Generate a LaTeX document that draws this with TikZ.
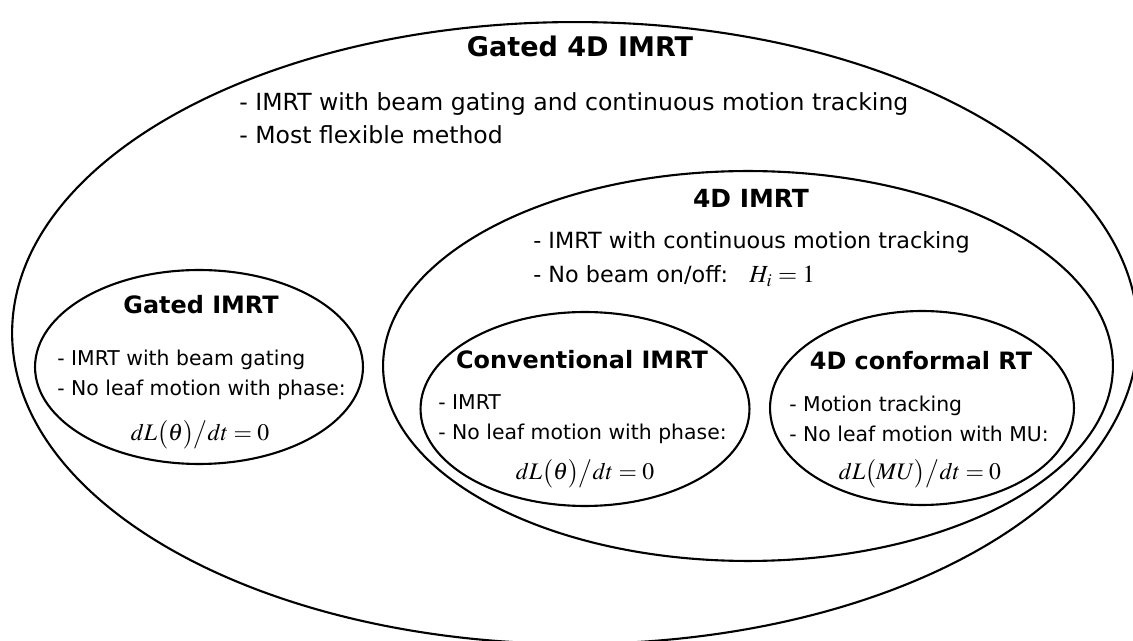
\documentclass[tikz,border=0pt]{standalone}
\usepackage{mathptmx}
\usepackage[no-math]{fontspec}
\setmainfont{DejaVu Sans}
\usetikzlibrary{shapes.geometric,positioning}

\begin{document}
\begin{tikzpicture}[
  x=0.02cm, y=-0.02cm,
  ring/.style={draw, ellipse, line width=1.2pt, inner sep=0pt},
  head/.style={font=\bfseries\fontsize{15.4}{18}\selectfont},
  subhead/.style={font=\bfseries\fontsize{13.6}{16}\selectfont},
  items/.style={align=left, anchor=west, inner sep=0pt, font=\fontsize{13.4}{18.7}\selectfont},
  smallitems/.style={align=left, anchor=west, inner sep=0pt, font=\fontsize{11.6}{16.8}\selectfont},
  formula/.style={inner sep=0pt, font=\fontsize{13.5}{16}\selectfont}
  ]

  \useasboundingbox (0,0) rectangle (1133,641);

  \node[ring, minimum width=22.52cm, minimum height=12.44cm] (gatedfour) at (575,333) {};
  \node[ring, minimum width=14.6cm, minimum height=7.8cm] (fourd) at (748,366) {};
  \node[ring, minimum width=6.56cm, minimum height=3.88cm] (gated) at (199,367) {};
  \node[ring, minimum width=6.58cm, minimum height=3.88cm] (conv) at (585,409) {};
  \node[ring, minimum width=6.08cm, minimum height=3.88cm] (conf) at (922,408) {};

  \node[head] (gatedfourtitle) at (580,46) {Gated 4D IMRT};
  \node[items] (gatedfourtext) at (239,118) {- IMRT with beam gating and continuous motion tracking\\- Most flexible method};

  \node[subhead, font=\bfseries\fontsize{14.2}{16}\selectfont] (fourdtitle) at (751,198) {4D IMRT};
  \node[items, font=\fontsize{12.7}{19.2}\selectfont] (fourdtext) at (533,259) {- IMRT with continuous motion tracking\\- No beam on/off:\ \ \ {\fontsize{14}{16}\selectfont$H_i=1$}};

  \node[subhead] (gatedtitle) at (201,305) {Gated IMRT};
  \node[smallitems] (gatedtext) at (57,375) {- IMRT with beam gating\\- No leaf motion with phase:};
  \node[formula] (gatedeq) at (200,435) {$dL\big(\theta\big)\big/dt=0$};

  \node[subhead] (convtitle) at (582,360) {Conventional IMRT};
  \node[smallitems] (convtext) at (438,419) {- IMRT\\- No leaf motion with phase:};
  \node[formula] (conveq) at (585,474) {$dL\big(\theta\big)\big/dt=0$};

  \node[subhead] (conftitle) at (921,361) {4D conformal RT};
  \node[smallitems] (conftext) at (789,419) {- Motion tracking\\- No leaf motion with MU:};
  \node[formula] (confeq) at (920,474) {$dL\big(MU\big)\big/dt=0$};
\end{tikzpicture}
\end{document}
